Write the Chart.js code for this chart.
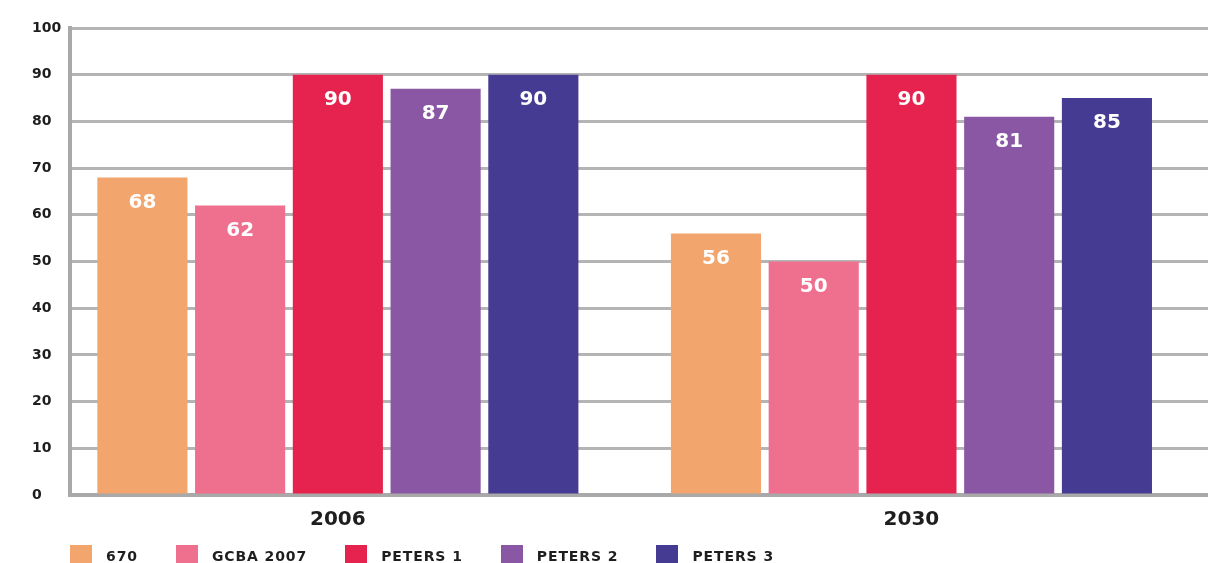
<!DOCTYPE html>
<html>
<head>
<meta charset="utf-8">
<script src="https://cdn.jsdelivr.net/npm/chart.js@4/dist/chart.umd.min.js"></script>
<style>
  html, body { margin: 0; padding: 0; background: #fff; overflow: hidden; }
  .wrap { position: relative; width: 1208px; height: 563px; }
  .legend { position: absolute; left: 70px; top: 545px; display: flex;
            font: bold 14px "DejaVu Sans", sans-serif; color: #1e1e1e; letter-spacing: 0.9px; }
  .legend-item { display: flex; align-items: center; margin-right: 38px; }
  .legend-box { width: 22px; height: 22px; margin-right: 14px; }
</style>
</head>
<body>
<div class="wrap">
  <canvas id="projectionChart" width="1208" height="563"></canvas>
  <div class="legend js-legend"></div>
</div>
<script>
// categories + series
const years = ['2006', '2030'];
const seriesNames = ['670', 'GCBA 2007', 'PETERS 1', 'PETERS 2', 'PETERS 3'];
const values670 = [68, 56];
const valuesGcba = [62, 50];
const valuesPeters1 = [90, 90];
const valuesPeters2 = [87, 81];
const valuesPeters3 = [90, 85];
const seriesColors = ['#f2a56d', '#ee6f8e', '#e5234e', '#8a57a5', '#463b93'];
const yMin = 0, yMax = 100, yStep = 10;

const allValues = [values670, valuesGcba, valuesPeters1, valuesPeters2, valuesPeters3];
const FONT = '"DejaVu Sans", sans-serif';

// white value labels inside the top of each bar
const barValueLabels = {
  id: 'barValueLabels',
  afterDatasetsDraw(chart) {
    const ctx = chart.ctx;
    ctx.save();
    ctx.font = 'bold 20px ' + FONT;
    ctx.fillStyle = '#ffffff';
    ctx.textAlign = 'center';
    ctx.textBaseline = 'middle';
    chart.data.datasets.forEach((ds, i) => {
      chart.getDatasetMeta(i).data.forEach((bar, j) => {
        ctx.fillText(ds.data[j].y, bar.x, bar.y + 25);
      });
    });
    ctx.restore();
  }
};

function renderLegend() {
  let html = '';
  for (let i = 0; i < seriesNames.length; i++) {
    html += `
      <div class="legend-item">
        <div class="legend-box" style="background:${seriesColors[i]}"></div>
        <span>${seriesNames[i]}</span>
      </div>`;
  }
  document.querySelector('.js-legend').innerHTML = html;
}

function renderChart() {
  const ctx = document.getElementById('projectionChart').getContext('2d');
  new Chart(ctx, {
    type: 'bar',
    data: {
      datasets: seriesNames.map((name, i) => ({
        label: name,
        data: allValues[i].map((v, j) => ({ x: j, y: v })),
        backgroundColor: seriesColors[i],
        borderWidth: 0,
        categoryPercentage: 0.852,
        barPercentage: 0.922
      }))
    },
    options: {
      responsive: false,
      animation: false,
      layout: { padding: { left: 32, top: 28, right: 0, bottom: 26 } },
      scales: {
        x: {
          type: 'linear',
          offset: false,
          min: -0.467,
          max: 1.517,
          grid: { display: false },
          border: { display: true, color: '#a9a9a9', width: 4 },
          // keep only the whole-number ticks (one per year)
          afterBuildTicks(scale) { scale.ticks = scale.ticks.filter(t => Number.isInteger(t.value)); },
          afterFit(scale) { scale.paddingLeft = 0; scale.paddingRight = 0; },
          ticks: {
            stepSize: 1,
            autoSkip: false,
            maxRotation: 0,
            padding: 5,
            color: '#1e1e1e',
            font: { family: FONT, size: 20, weight: 'bold' },
            callback: v => years[v] !== undefined ? years[v] : ''
          }
        },
        y: {
          min: yMin,
          max: yMax,
          grid: { color: '#b4b4b4', lineWidth: 3, drawTicks: false },
          border: { display: true, color: '#a9a9a9', width: 4 },
          afterFit(scale) { scale.width = 38; },
          ticks: {
            stepSize: yStep,
            crossAlign: 'far',
            color: '#1e1e1e',
            font: { family: FONT, size: 14, weight: 'bold' }
          }
        }
      },
      plugins: {
        tooltip: { enabled: false },
        legend: { display: false }
      }
    },
    plugins: [barValueLabels]
  });
}

document.addEventListener('DOMContentLoaded', () => {
  renderLegend();
  renderChart();
});
</script>
</body>
</html>
